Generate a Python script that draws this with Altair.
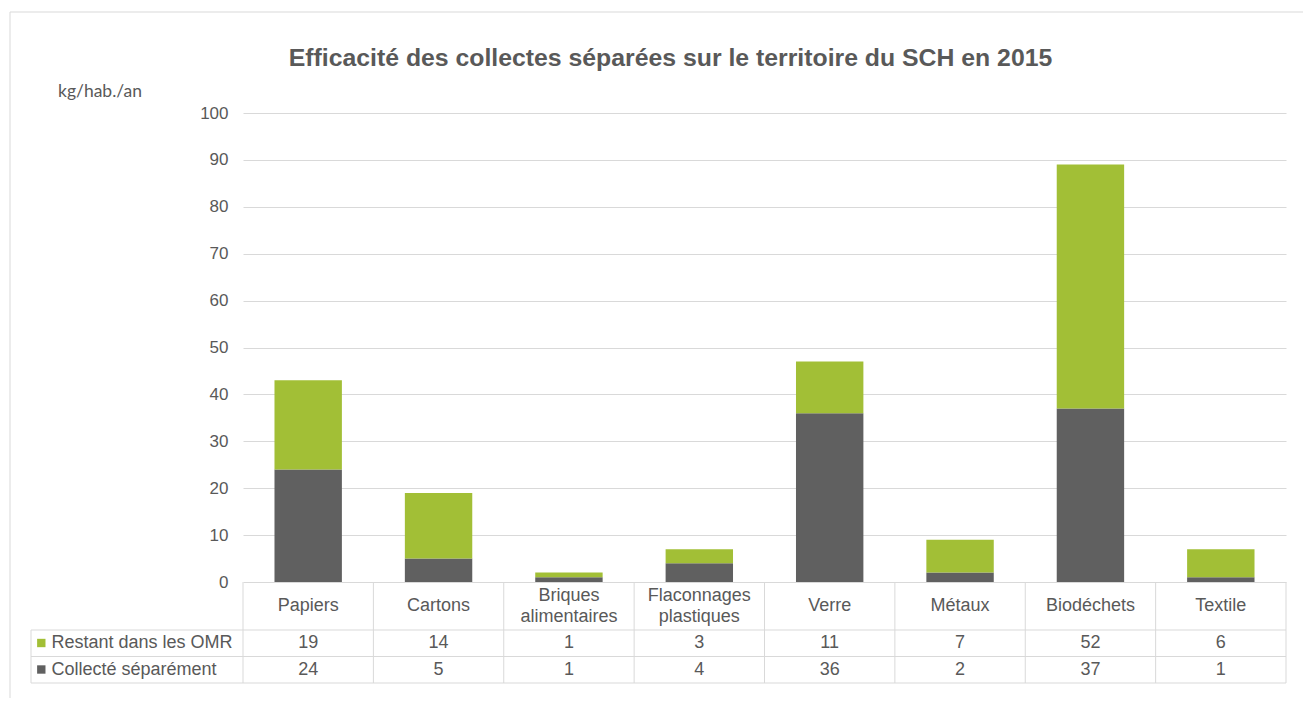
import altair as alt
import pandas as pd

# ---- data ----
categories = ["Papiers", "Cartons", "Briques alimentaires", "Flaconnages plastiques",
              "Verre", "Métaux", "Biodéchets", "Textile"]
restant = [19, 14, 1, 3, 11, 7, 52, 6]
collecte = [24, 5, 1, 4, 36, 2, 37, 1]
series = ["Restant dans les OMR", "Collecté séparément"]
colors = ["#A2BF36", "#606060"]
title_text = "Efficacité des collectes séparées sur le territoire du SCH en 2015"
unit_text = "kg/hab./an"
y_ticks = [0, 10, 20, 30, 40, 50, 60, 70, 80, 90, 100]

rows = []
for c, r, k in zip(categories, restant, collecte):
    rows.append({"cat": c, "series": series[1], "value": k, "order": 0})
    rows.append({"cat": c, "series": series[0], "value": r, "order": 1})
df = pd.DataFrame(rows)
cat_df = pd.DataFrame({"cat": categories,
                       "two": [(" " in c) for c in categories]})
leg_df = pd.DataFrame({"series": series, "row": [0, 1]})
one = pd.DataFrame({"a": [0]})

W, H = 1043, 469
STEP = W / len(categories)
TXT = "#595959"
GRID = "#D9D9D9"
FONT = "Liberation Sans"
FS = 18
LH = 21

xscale = alt.Scale(domain=categories, paddingInner=0.483, paddingOuter=0.2415)
xenc = alt.X("cat:N", scale=xscale, axis=None, sort=categories)
cscale = alt.Scale(domain=series, range=colors)

bars = alt.Chart(df).mark_bar().encode(
    x=xenc,
    y=alt.Y("value:Q", stack="zero",
            scale=alt.Scale(domain=[0, 100], nice=False),
            axis=alt.Axis(values=y_ticks, grid=True, gridColor=GRID, domain=False,
                          ticks=False, labelFontSize=17, labelColor=TXT, labelFont=FONT,
                          labelPadding=15, title=None)),
    color=alt.Color("series:N", scale=cscale, legend=None),
    order=alt.Order("order:Q"),
)

# outer chart border
border = alt.Chart(one).mark_rect(fillOpacity=0, stroke=GRID, strokeWidth=1).encode(
    x=alt.value(-233), x2=alt.value(W + 60), y=alt.value(-101), y2=alt.value(H + 150)
)

title = alt.Chart(one).mark_text(text=title_text, font=FONT, fontSize=24.8, fontWeight="bold",
                                 color=TXT, align="center", baseline="alphabetic").encode(
    x=alt.value(427.5), y=alt.value(-47)
)
unit = alt.Chart(one).mark_text(text=unit_text, font="Lato", fontSize=17.5, color=TXT,
                                align="left", baseline="alphabetic").encode(
    x=alt.value(-185), y=alt.value(-16.5)
)

# table header text (one-line and two-line labels)
header1 = alt.Chart(cat_df).transform_filter(alt.datum.two == False).mark_text(
    font=FONT, fontSize=FS, color=TXT, baseline="middle").encode(
    x=xenc, y=alt.value(493), text="cat:N"
)
header2 = alt.Chart(cat_df).transform_filter(alt.datum.two == True).mark_text(
    font=FONT, fontSize=FS, color=TXT, lineBreak=" ", lineHeight=LH,
    baseline="middle").encode(
    x=xenc, y=alt.value(493 - LH / 2), text="cat:N"
)

# table values
row_y = {series[0]: 530, series[1]: 556.5}
vals = []
for s in series:
    vals.append(
        alt.Chart(df).transform_filter(alt.datum.series == s)
        .mark_text(font=FONT, fontSize=FS, color=TXT, baseline="middle")
        .encode(x=xenc, y=alt.value(row_y[s]), text="value:Q")
    )

# legend keys in table
keys = []
for s in series:
    keys.append(
        alt.Chart(leg_df).transform_filter(alt.datum.series == s)
        .mark_point(shape="square", filled=True, size=70, opacity=1, strokeWidth=0)
        .encode(x=alt.value(-201.7), y=alt.value(row_y[s]),
                color=alt.Color("series:N", scale=cscale, legend=None))
    )
    keys.append(
        alt.Chart(leg_df).transform_filter(alt.datum.series == s)
        .mark_text(font=FONT, fontSize=FS, color=TXT, align="left", baseline="middle")
        .encode(x=alt.value(-191.5), y=alt.value(row_y[s]), text="series:N")
    )

# table grid lines
vlines = alt.Chart(cat_df).mark_rule(color=GRID, strokeWidth=1, xOffset=-STEP / 2).encode(
    x=xenc, y=alt.value(H), y2=alt.value(570)
)
vlast = alt.Chart(cat_df).transform_filter(alt.datum.cat == categories[-1]).mark_rule(
    color=GRID, strokeWidth=1, xOffset=STEP / 2).encode(
    x=xenc, y=alt.value(H), y2=alt.value(570)
)
hlines = [
    alt.Chart(one).mark_rule(color=GRID, strokeWidth=1).encode(
        x=alt.value(-212), x2=alt.value(W), y=alt.value(yy))
    for yy in (517, 543.5, 570)
]
vleft = alt.Chart(one).mark_rule(color=GRID, strokeWidth=1).encode(
    x=alt.value(-212), y=alt.value(517), y2=alt.value(570)
)

chart = alt.layer(
    border, bars, title, unit, header1, header2, *vals, vlines, vlast, *hlines, vleft, *keys
).properties(
    width=W, height=H,
    autosize=alt.AutoSizeParams(type="none"),
    padding={"left": 235, "top": 105, "right": 17, "bottom": 116},
    background="white",
).configure_view(strokeWidth=0)

chart.save("out.html", embed_options={"renderer": "svg", "actions": False})
